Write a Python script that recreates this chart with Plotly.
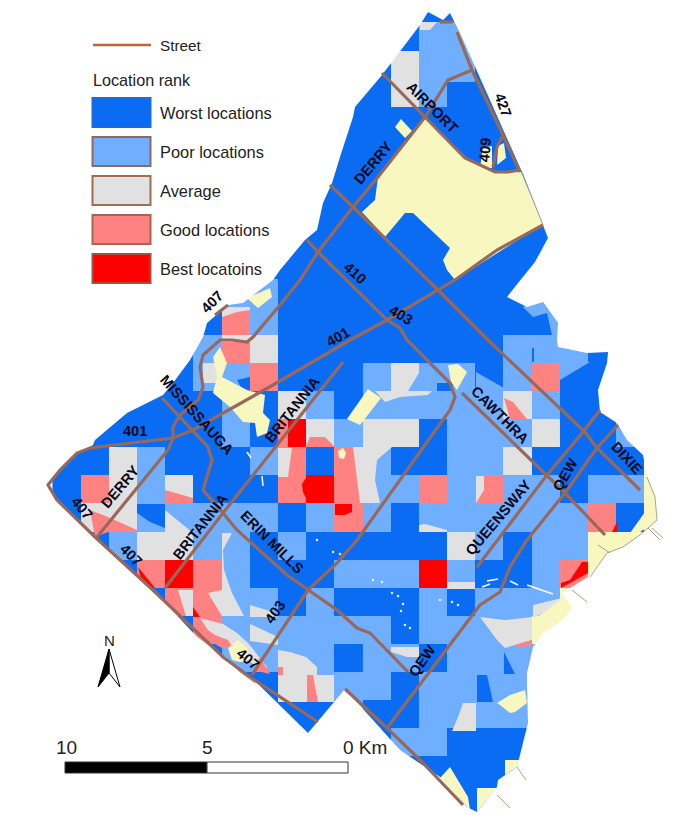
import plotly.graph_objects as go

# ---------- grid of location ranks (W worst, P poor, A average, G good, B best, C no data)
GRID_X0 = 52.5
GRID_Y0 = -2.4
CELL_W = 28.2
CELL_H = 28.1
rank_rows = [
    "WWWWWWWWWWWWWWWWWWWWWW",
    "WWWWWWWWWWWWWPPWWWWWWW",
    "WWWWWWWWWWWWAPPWWWWWWW",
    "WWWWWWWWWWWWAPWWWWWWWW",
    "WWWWWWWWWWWWWWWWWWWWWW",
    "WWWWWWWWWWWWWWWWWWWWWW",
    "WWWWWWWWWWWWWWWWWWWWWW",
    "WWWWWWWWWWWWWWWWWWWWWW",
    "WWWWWWWWWWWWWWWWWWWWWW",
    "WWWWWWWWWWWWWWWWWWWWWW",
    "WWWWWWPPWWWWWWWWWWWWWW",
    "WWWWWWGPWWWWWWWWWWWWWW",
    "WWWWWPGAWWWWWWWWPPPWWW",
    "WWWWWPPGWWWPPPPWPGWWWW",
    "WWWWWWPWAPWPPPPPAPWWWW",
    "WWWWWWPWBAPAAWPPPAWWPP",
    "WWAPWWWPGWGPWWPPAWWWWC",
    "WGAPAWWWGBGPPGPGPPWPPC",
    "WAAPPPPPWPGPWPPPPPPGWC",
    "WWPAAPPWPWWWWWAPWPPCCC",
    "WWWGBGPWWWPPPBPWWPGCCC",
    "WWWWGGPPWPWWWPWPPPCCCC",
    "WWWWWGPPPPPPWPPPPCCCCC",
    "WWWWWWPPPPWPPWPPPPPPPP",
    "WWWWWWWWPPPPWPPPPPPPPP",
    "WWWWWWWWWWPWWPPPPPPPPP",
    "WWWWWWWWWWWWPPWWWPPPPP",
    "WWWWWWWWWWWWWWWWWWWWWW",
    "WWWWWWWWWWWWWWWWWWWWWW",
]
rank_codes = {"C": 0, "W": 1, "P": 2, "A": 3, "G": 4, "B": 5}
rank_colors = ["#f7f7bf", "#0a6cf2", "#70aeff", "#e1e1e1", "#ff8282", "#ff0000"]

# ---------- curved rank zones and no-data patches (map coordinates)
poor_zones = [
    [(419, 22), (457, 22), (457, 26), (419, 26)],
    [(523, 307), (533, 302), (543, 302), (558, 323), (558, 335), (552, 335), (547, 313), (533, 317)],
    [(560, 363), (590, 362), (560, 380)],
    [(476, 372), (504, 388), (504, 391), (476, 391)],
    [(297, 677), (303, 677), (303, 702), (300, 702)],
]
average_zones = [
    [(420, 22), (437, 22), (430, 30), (420, 30)],
    [(391, 51), (419, 51), (419, 54), (391, 54)],
    [(222, 307), (250, 307), (250, 310), (237, 312), (222, 317)],
    [(222, 335), (253, 335), (253, 342), (222, 342)],
    [(203, 363), (217, 363), (217, 383), (203, 383)],
    [(391, 363), (419, 363), (419, 373), (408, 391), (391, 391)],
    [(375, 391), (432, 391), (428, 395), (400, 397), (385, 402)],
    [(278, 448), (292, 448), (288, 477), (278, 477)],
    [(353, 447), (392, 447), (377, 460), (375, 480), (380, 503), (360, 503)],
    [(476, 476), (484, 476), (484, 490), (476, 503)],
    [(165, 510), (193, 533), (165, 533)],
    [(222, 533), (232, 533), (223, 550), (224, 570), (232, 593), (244, 616), (222, 616), (208, 593), (222, 590)],
    [(178, 590), (193, 590), (193, 616), (186, 616)],
    [(200, 618), (223, 624), (237, 633), (248, 643), (267, 667), (265, 672), (240, 655), (222, 640), (205, 628)],
    [(250, 605), (267, 610), (278, 617), (250, 617)],
    [(250, 624), (278, 637), (278, 645), (250, 641)],
    [(278, 650), (290, 652), (306, 657), (317, 667), (317, 675), (334, 675), (334, 702), (278, 702)],
    [(419, 525), (425, 524), (447, 530), (447, 532), (419, 532)],
    [(447, 582), (475, 582), (475, 589), (447, 589)],
    [(391, 647), (419, 647), (419, 657), (407, 657), (391, 652)],
    [(463, 703), (476, 703), (476, 731), (452, 731), (458, 717)],
    [(480, 617), (505, 620), (532, 617), (532, 640), (515, 645), (505, 648), (497, 640)],
    [(533, 605), (562, 598), (552, 608), (533, 618)],
]
good_zones = [
    [(278, 419), (288, 419), (288, 447), (278, 447)],
    [(310, 437), (325, 437), (335, 447), (306, 447)],
    [(504, 398), (513, 402), (527, 419), (510, 419)],
    [(165, 490), (193, 498), (193, 504), (165, 504)],
    [(90, 510), (108, 517), (137, 530), (137, 532), (108, 532), (95, 537)],
    [(194, 618), (200, 618), (210, 633), (228, 640), (233, 648), (222, 648), (195, 633)],
    [(253, 670), (270, 674), (260, 657)],
    [(307, 675), (313, 675), (318, 702), (307, 702)],
    [(278, 667), (283, 667), (283, 675), (278, 675)],
    [(515, 645), (532, 640), (532, 646), (517, 647)],
]
worst_zones = [
    [(391, 107), (447, 107), (447, 110), (391, 110)],
    [(532, 348), (534, 348), (534, 362), (532, 362)],
    [(237, 380), (250, 377), (250, 391), (243, 391)],
    [(437, 383), (453, 383), (453, 391), (437, 391)],
    [(137, 504), (165, 504), (165, 528), (150, 522), (137, 513)],
    [(477, 675), (487, 675), (493, 702), (477, 702)],
    [(504, 652), (508, 660), (515, 674), (504, 674)],
]
best_zones = [
    [(302, 484), (306, 478), (306, 498), (303, 492)],
    [(335, 504), (352, 504), (352, 512), (345, 515), (335, 515)],
    [(138, 567), (155, 588), (143, 588)],
    [(193, 607), (200, 617), (193, 617)],
    [(561, 588), (588, 573), (588, 562), (582, 562), (570, 580), (561, 583)],
    [(612, 532), (617, 532), (617, 522)],
]
nodata_zones = [
    [(425, 118), (467, 158), (495, 172), (521, 172), (543, 225), (513, 243), (455, 280), (447, 270), (443, 260),
     (450, 248), (413, 213), (405, 213), (385, 237), (362, 212), (375, 200), (378, 177)],
    [(395, 127), (401, 119), (412, 131), (405, 138)],
    [(480, 168), (483, 148), (492, 146), (492, 168)],
    [(498, 146), (504, 143), (506, 158), (497, 165)],
    [(213, 357), (220, 347), (227, 363), (222, 377), (247, 390), (265, 395), (263, 413), (270, 420), (267, 433),
     (257, 437), (255, 423), (243, 422), (230, 407), (213, 393), (217, 377)],
    [(247, 298), (270, 288), (272, 297), (258, 308)],
    [(347, 419), (368, 389), (381, 398), (360, 425)],
    [(448, 365), (458, 364), (467, 372), (457, 390), (451, 382)],
    [(338, 451), (343, 448), (346, 453), (344, 459), (339, 458)],
    [(647, 477), (657, 497), (657, 520), (633, 537), (630, 533), (645, 512), (645, 480)],
    [(589, 533), (630, 533), (607, 553), (590, 577)],
    [(550, 608), (532, 620), (532, 638), (543, 633), (563, 620), (572, 607), (567, 595), (562, 598)],
    [(497, 703), (510, 695), (525, 690), (527, 703), (515, 712), (510, 713), (500, 705)],
    [(505, 760), (520, 760), (517, 767), (505, 775)],
    [(477, 788), (497, 788), (495, 790), (477, 812)],
    [(450, 767), (458, 780), (468, 797), (470, 810), (440, 778)],
    [(228, 648), (238, 640), (247, 648), (250, 660), (240, 662), (232, 660)],
]
white_strips = [
    [(487, 581), (498, 579)], [(482, 587), (490, 584)], [(527, 585), (553, 594)], [(510, 581), (518, 585)],
    [(247, 452), (251, 458)], [(262, 476), (263, 486)],
]
speck_x = [317, 333, 340, 373, 382, 392, 398, 403, 401, 405, 410, 440, 452, 458]
speck_y = [540, 552, 554, 580, 582, 593, 596, 604, 611, 625, 628, 600, 602, 605]

# ---------- city outline, counter-clockwise on screen, starting at the west tip
outline = [
    (47, 485), (57, 500), (95, 537), (155, 592), (197, 637), (227, 658), (257, 683), (308, 733), (345, 689),
    (400, 750), (440, 777), (467, 807), (477, 812), (497, 787), (498, 780), (517, 767), (525, 737), (528, 723),
    (527, 683), (527, 673), (533, 647), (543, 633), (563, 620), (572, 607), (562, 593), (588, 577), (607, 553),
    (623, 547), (640, 535), (657, 520), (655, 497), (647, 477), (643, 455), (627, 440), (617, 423), (600, 412),
    (598, 390), (607, 363), (608, 352), (587, 353), (558, 347), (557, 340), (558, 323), (543, 302), (527, 307),
    (507, 297), (518, 283), (535, 262), (548, 238), (543, 225), (522, 172), (460, 33), (450, 13), (443, 20),
    (428, 12), (420, 25), (392, 62), (382, 75), (355, 107), (353, 117), (340, 157), (332, 183), (323, 203),
    (317, 230), (305, 240), (280, 270), (273, 280), (243, 303), (228, 305), (207, 323), (203, 337), (190, 360),
    (173, 383), (163, 395), (127, 413), (95, 440), (93, 445), (80, 452), (60, 470),
]
coast_lines = [
    [(522, 172), (543, 225)],
    [(657, 520), (640, 535), (623, 547), (607, 553), (590, 577)],
    [(647, 477), (655, 497), (657, 520)],
    [(648, 528), (660, 540)], [(652, 528), (663, 538)], [(598, 545), (610, 553)],
    [(572, 590), (587, 602)], [(517, 767), (526, 780)], [(497, 795), (510, 808)],
    [(227, 658), (240, 672), (255, 683)],
]

# ---------- streets
street_paths = [
    [(457, 32), (472, 70), (503, 135), (520, 172)],
    [(440, 22), (453, 22)],
    [(382, 73), (425, 117), (465, 158), (495, 172), (507, 172), (520, 170)],
    [(472, 70), (455, 77), (448, 80), (425, 117), (378, 177), (353, 207), (318, 252), (300, 280), (280, 305), (253, 337),
     (247, 342), (232, 340), (220, 340), (203, 355), (200, 367), (203, 387), (198, 400), (180, 415), (173, 427),
     (173, 438), (168, 450), (97, 537)],
    [(330, 185), (353, 207), (438, 290), (488, 340), (585, 432), (597, 448), (640, 490)],
    [(307, 240), (318, 252), (387, 320), (400, 328), (407, 340), (450, 383), (455, 397), (450, 410), (357, 540),
     (337, 563), (308, 590), (252, 675)],
    [(462, 393), (547, 475), (565, 493), (605, 535)],
    [(543, 225), (497, 250), (455, 280), (438, 290), (387, 320), (350, 340), (273, 385), (193, 430), (173, 438),
     (90, 448), (77, 453), (60, 470), (48, 485), (57, 500), (95, 537), (155, 592), (223, 657), (250, 677), (280, 697),
     (318, 722)],
    [(345, 689), (387, 728), (422, 762), (463, 805)],
    [(618, 425), (597, 448), (565, 493), (527, 540), (510, 567), (500, 592), (480, 605), (448, 647), (387, 728)],
    [(600, 410), (583, 432), (547, 475), (477, 567)],
    [(162, 398), (178, 415), (193, 430), (208, 447), (212, 460), (203, 490), (223, 513), (237, 530), (287, 575),
     (308, 590), (337, 610), (357, 628), (370, 633), (408, 672)],
    [(343, 362), (223, 513), (165, 588)],
    [(215, 315), (228, 305)],
    [(503, 135), (497, 147), (493, 167)],
]
street_labels = ["427", "AIRPORT", "409", "DERRY", "410", "403", "401", "407", "MISSISSAUGA", "BRITANNIA", "401",
                 "DERRY", "407", "407", "BRITANNIA", "ERIN MILLS", "403", "407", "CAWTHRA", "QUEENSWAY", "QEW",
                 "DIXIE", "QEW"]
label_x = [503, 432, 485, 373, 355, 401, 338, 212, 197, 292, 135, 120, 82, 131, 200, 272, 275, 248, 500, 498, 565, 627, 422]
label_y = [105, 107, 150, 163, 273, 315, 337, 302, 415, 410, 431, 487, 508, 555, 527, 542, 612, 659, 415, 518, 475, 458, 661]
label_angle = [70, 45, -85, -50, 42, 30, -30, -45, 48, -52, 0, -50, 50, 45, -52, 45, -55, 40, 45, -50, -60, 47, -55]

# ---------- legend and furniture
legend_names = ["Worst locations", "Poor locations", "Average", "Good locations", "Best locatoins"]
legend_fill = ["#0a6cf2", "#70aeff", "#e1e1e1", "#ff8282", "#ff0000"]
legend_edge = ["#1a6ae0", "#8a6a66", "#9a6d55", "#a8654e", "#a8503c"]
legend_top = [98, 137, 176, 215, 254]
scale_labels = ["10", "5", "0 Km"]
scale_label_x = [66, 207, 365]

STREET = "#98695a"
TEXT = "#222222"
FONT = "Liberation Sans"


def poly_xy(polys, close=True):
    xs, ys = [], []
    for p in polys:
        pts = list(p) + ([p[0]] if close else [])
        xs += [q[0] for q in pts] + [None]
        ys += [q[1] for q in pts] + [None]
    return xs, ys


fig = go.Figure()

n = len(rank_colors) - 1
colorscale = []
for k, c in enumerate(rank_colors):
    colorscale += [[max(0, (k - 0.5)) / n if k else 0, c], [min(n, k + 0.5) / n, c]]
fig.add_trace(go.Heatmap(
    z=[[rank_codes[c] for c in row] for row in rank_rows],
    x0=GRID_X0 + CELL_W / 2, dx=CELL_W, y0=GRID_Y0 + CELL_H / 2, dy=CELL_H,
    zmin=0, zmax=n, colorscale=colorscale, showscale=False, hoverinfo="skip", zsmooth=False,
))

for polys, color in [(poor_zones, rank_colors[2]), (average_zones, rank_colors[3]), (good_zones, rank_colors[4]),
                     (worst_zones, rank_colors[1]), (best_zones, rank_colors[5]), (nodata_zones, rank_colors[0])]:
    xs, ys = poly_xy(polys)
    fig.add_trace(go.Scatter(x=xs, y=ys, mode="lines", fill="toself", fillcolor=color,
                             line=dict(width=0, color=color), hoverinfo="skip"))

xs, ys = poly_xy(white_strips, close=False)
fig.add_trace(go.Scatter(x=xs, y=ys, mode="lines", line=dict(width=1.5, color="white"), hoverinfo="skip"))
fig.add_trace(go.Scatter(x=speck_x, y=speck_y, mode="markers", marker=dict(size=2.5, color="#e8f2ff"), hoverinfo="skip"))

# white surround outside the city outline
mask_x = [0, 680, 680, 0, 0] + [p[0] for p in outline] + [outline[0][0], 0, 0]
mask_y = [0, 0, 815, 815, outline[0][1]] + [p[1] for p in outline] + [outline[0][1], outline[0][1], 0]
fig.add_trace(go.Scatter(x=mask_x, y=mask_y, mode="lines", fill="toself", fillcolor="white",
                         line=dict(width=0, color="white"), hoverinfo="skip"))

xs, ys = poly_xy(coast_lines, close=False)
fig.add_trace(go.Scatter(x=xs, y=ys, mode="lines", line=dict(width=1, color="#a5a58a"), hoverinfo="skip"))

xs, ys = poly_xy(street_paths, close=False)
fig.add_trace(go.Scatter(x=xs, y=ys, mode="lines", line=dict(width=3.2, color=STREET), hoverinfo="skip"))

# north arrow
fig.add_trace(go.Scatter(x=[109, 120, 109, 109], y=[649, 687, 673, 649], mode="lines", fill="toself", fillcolor="white",
                         line=dict(width=1, color="black"), hoverinfo="skip"))
fig.add_trace(go.Scatter(x=[109, 98, 109, 109], y=[649, 687, 673, 649], mode="lines", fill="toself", fillcolor="black",
                         line=dict(width=1, color="black"), hoverinfo="skip"))

shapes = [
    dict(type="line", x0=93, x1=151, y0=45, y1=45, line=dict(color="#b8693c", width=2.5)),
    dict(type="rect", x0=65, x1=207, y0=762, y1=773, fillcolor="black", line=dict(color="#333", width=1)),
    dict(type="rect", x0=207, x1=348, y0=762, y1=773, fillcolor="white", line=dict(color="#333", width=1)),
]
annotations = []


def text(x, y, s, size, anchor="center", angle=0, color=TEXT):
    annotations.append(dict(x=x, y=y, text=s, showarrow=False, xanchor=anchor, yanchor="middle", textangle=angle,
                            font=dict(family=FONT, size=size, color=color)))


for fill, edge, top, name in zip(legend_fill, legend_edge, legend_top, legend_names):
    shapes.append(dict(type="rect", x0=92.5, x1=150.5, y0=top, y1=top + 29, fillcolor=fill, line=dict(color=edge, width=2)))
    text(158, top + 15, name, 16.4, "left")
text(158, 45.5, "Street", 15.3, "left")
text(91, 79.5, "Location rank", 16.2, "left")
text(109, 640, "N", 15)
for s, x in zip(scale_labels, scale_label_x):
    text(x, 747, s, 19)
for s, x, y, a in zip(street_labels, label_x, label_y, label_angle):
    text(x, y, "<b>" + s + "</b>", 14.5, angle=a, color="#080818")

fig.update_layout(
    width=680, height=815, margin=dict(l=0, r=0, t=0, b=0), showlegend=False,
    paper_bgcolor="white", plot_bgcolor="white", shapes=shapes, annotations=annotations,
    xaxis=dict(range=[0, 680], visible=False, fixedrange=True),
    yaxis=dict(range=[815, 0], visible=False, fixedrange=True),
)
fig.write_html("out.html", config={"displayModeBar": False},
               post_script="document.body.style.margin='0';document.body.style.overflow='hidden';")
